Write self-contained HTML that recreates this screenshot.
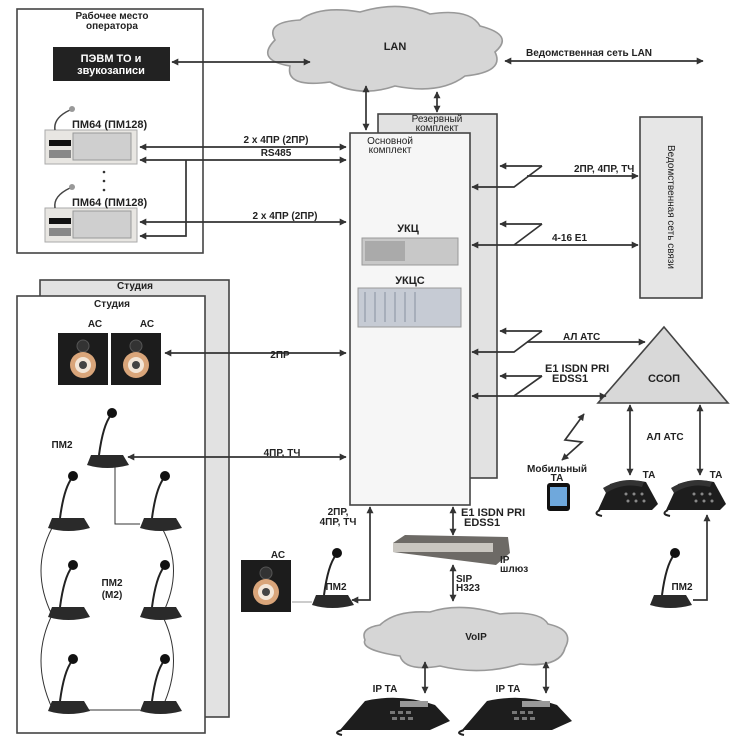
<!DOCTYPE html>
<html><head><meta charset="utf-8"><style>
html,body{margin:0;padding:0;background:#fff}
svg{display:block}
text{font-family:"Liberation Sans","DejaVu Sans",sans-serif;font-weight:bold;fill:#222;font-size:10px}
</style></head><body>
<svg width="748" height="748" viewBox="0 0 748 748" xmlns="http://www.w3.org/2000/svg">
<defs>
<marker id="a" viewBox="0 0 10 10" refX="9" refY="5" markerWidth="9" markerHeight="7" orient="auto-start-reverse" markerUnits="userSpaceOnUse"><path d="M0,0L10,5L0,10z" fill="#333"/></marker>
<g id="mic"><path d="M-8,0 Q-4,-30 4,-40" stroke="#222" stroke-width="2" fill="none"/><circle cx="5" cy="-42" r="5" fill="#111"/><path d="M-20,10 L-16,0 L16,0 L22,10 Q0,16 -20,10z" fill="#2a2a2a"/></g>
<g id="spk"><rect x="0" y="0" width="50" height="52" fill="#1c1c1c"/><circle cx="25" cy="13" r="6" fill="#333" stroke="#555"/><circle cx="25" cy="32" r="13" fill="#d9a57a"/><circle cx="25" cy="32" r="8" fill="#f3e6d8"/><circle cx="25" cy="32" r="4" fill="#444"/></g>
<g id="pm64"><rect x="0" y="0" width="92" height="34" fill="#e8e6e2" stroke="#aaa"/><rect x="28" y="3" width="58" height="27" fill="#cfcfcf" stroke="#999"/><rect x="4" y="10" width="22" height="6" fill="#111"/><rect x="4" y="20" width="22" height="8" fill="#888"/><path d="M10,0 Q8,-12 25,-20" stroke="#444" fill="none" stroke-width="1.5"/><circle cx="27" cy="-21" r="3" fill="#999"/></g>
<g id="ph"><path d="M0,32 L12,6 Q30,0 48,4 L60,26 L54,32z" fill="#1d1d1d"/><path d="M5,10 Q25,-2 46,4 L44,9 Q25,4 8,15z" fill="#333"/><g fill="#888"><circle cx="28" cy="16" r="1.5"/><circle cx="36" cy="16" r="1.5"/><circle cx="44" cy="16" r="1.5"/><circle cx="30" cy="23" r="1.5"/><circle cx="38" cy="23" r="1.5"/><circle cx="46" cy="23" r="1.5"/></g><path d="M2,32 Q-6,36 4,38" stroke="#222" fill="none" stroke-width="2"/></g>
<g id="ipph"><path d="M0,35 L25,6 Q60,-2 95,10 L110,26 L90,35z" fill="#1d1d1d"/><rect x="60" y="6" width="28" height="6" fill="#999"/><g fill="#777"><rect x="50" y="16" width="5" height="3"/><rect x="58" y="16" width="5" height="3"/><rect x="66" y="16" width="5" height="3"/><rect x="52" y="22" width="5" height="3"/><rect x="60" y="22" width="5" height="3"/><rect x="68" y="22" width="5" height="3"/></g><path d="M2,35 Q-8,38 2,40" stroke="#222" fill="none" stroke-width="2"/></g>
</defs>
<g stroke="#444" stroke-width="1.6" fill="none">
<rect x="17" y="9" width="186" height="244" fill="#fff"/>
<path d="M275,40 Q265,22 300,20 Q320,5 360,12 Q400,0 430,14 Q470,8 480,26 Q515,35 495,52 Q505,72 465,76 Q440,95 395,86 Q360,98 330,82 Q285,88 290,66 Q255,60 275,40z" fill="#d6d6d6" stroke="#999"/>
<rect x="378" y="114" width="119" height="364" fill="#e2e2e2"/>
<rect x="350" y="133" width="120" height="372" fill="#f6f6f6"/>
<rect x="40" y="280" width="189" height="437" fill="#e2e2e2"/>
<rect x="17" y="296" width="188" height="437" fill="#fff"/>
<rect x="640" y="117" width="62" height="181" fill="#e6e6e6"/>
<path d="M664,327 L728,403 L598,403z" fill="#d8d8d8"/>
<path d="M380,625 Q395,610 430,612 Q460,602 500,614 Q540,610 548,624 Q575,630 565,648 Q560,668 520,664 Q480,676 440,666 Q405,672 400,656 Q360,650 365,640 Q360,628 380,625z" fill="#d6d6d6" stroke="#999"/>
</g>
<g stroke="#333" stroke-width="1.7" fill="none">
<line x1="172" y1="62" x2="310" y2="62" marker-start="url(#a)" marker-end="url(#a)"/>
<line x1="505" y1="61" x2="703" y2="61" marker-start="url(#a)" marker-end="url(#a)"/>
<line x1="366" y1="86" x2="366" y2="130" marker-start="url(#a)" marker-end="url(#a)"/>
<line x1="437" y1="92" x2="437" y2="112" marker-start="url(#a)" marker-end="url(#a)"/>
<line x1="140" y1="147" x2="346" y2="147" marker-start="url(#a)" marker-end="url(#a)"/>
<line x1="140" y1="160" x2="346" y2="160" marker-start="url(#a)" marker-end="url(#a)"/>
<polyline points="186,160 186,236 140,236" marker-end="url(#a)"/>
<line x1="140" y1="222" x2="346" y2="222" marker-start="url(#a)" marker-end="url(#a)"/>
<line x1="165" y1="353" x2="346" y2="353" marker-start="url(#a)" marker-end="url(#a)"/>
<line x1="128" y1="457" x2="346" y2="457" marker-start="url(#a)" marker-end="url(#a)"/>
<polyline points="542,166 500,166" marker-end="url(#a)"/><polyline points="542,166 514,187 472,187" marker-end="url(#a)"/><line x1="527" y1="176" x2="638" y2="176" marker-end="url(#a)"/>
<polyline points="542,224 500,224" marker-end="url(#a)"/><polyline points="542,224 514,245" /><line x1="472" y1="245" x2="638" y2="245" marker-start="url(#a)" marker-end="url(#a)"/>
<polyline points="542,331 500,331" marker-end="url(#a)"/><polyline points="542,331 514,352 472,352" marker-end="url(#a)"/><line x1="527" y1="342" x2="645" y2="342" marker-end="url(#a)"/>
<polyline points="542,376 500,376" marker-end="url(#a)"/><polyline points="542,376 514,396 472,396" marker-end="url(#a)"/><line x1="514" y1="396" x2="606" y2="396" marker-end="url(#a)"/>
<line x1="630" y1="405" x2="630" y2="475" marker-start="url(#a)" marker-end="url(#a)"/>
<line x1="700" y1="405" x2="700" y2="475" marker-start="url(#a)" marker-end="url(#a)"/>
<polyline points="562,460 582,442 565,440 584,414" marker-start="url(#a)" marker-end="url(#a)"/>
<polyline points="693,600 707,600 707,515" marker-end="url(#a)"/>
<polyline points="352,600 370,600 370,507" marker-start="url(#a)" marker-end="url(#a)"/>
<line x1="453" y1="507" x2="453" y2="535" marker-start="url(#a)" marker-end="url(#a)"/>
<line x1="453" y1="565" x2="453" y2="601" marker-start="url(#a)" marker-end="url(#a)"/>
<line x1="425" y1="662" x2="425" y2="693" marker-start="url(#a)" marker-end="url(#a)"/>
<line x1="546" y1="662" x2="546" y2="693" marker-start="url(#a)" marker-end="url(#a)"/>
<polyline points="115,466 115,524 140,524" stroke-width="1"/>
<line x1="292" y1="602" x2="312" y2="602" stroke-width="1" stroke="#999"/>
<path d="M52,528 Q30,570 52,615 Q30,660 52,708 M162,528 Q185,570 162,615 Q185,660 162,708 M75,710 L140,710" stroke-width="1"/>
</g>
<rect x="53" y="47" width="117" height="34" fill="#222"/>
<text x="111" y="62" text-anchor="middle" style="fill:#fff;font-size:11px">ПЭВМ ТО и</text>
<text x="111" y="74" text-anchor="middle" style="fill:#fff;font-size:11px">звукозаписи</text>
<use href="#pm64" x="45" y="130"/><use href="#pm64" x="45" y="208"/>
<g fill="#333"><circle cx="104" cy="172" r="1.3"/><circle cx="104" cy="181" r="1.3"/><circle cx="104" cy="190" r="1.3"/></g>
<use href="#spk" x="58" y="333"/><use href="#spk" x="111" y="333"/><use href="#spk" x="241" y="560"/>
<use href="#mic" x="107" y="455"/>
<use href="#mic" x="68" y="518"/><use href="#mic" x="160" y="518"/>
<use href="#mic" x="68" y="607"/><use href="#mic" x="160" y="607"/>
<use href="#mic" x="68" y="701"/><use href="#mic" x="160" y="701"/>
<use href="#mic" x="332" y="595"/><use href="#mic" x="670" y="595"/>
<rect x="362" y="238" width="96" height="27" fill="#c8c8c8" stroke="#999"/><rect x="365" y="241" width="40" height="20" fill="#aaa"/>
<rect x="358" y="288" width="103" height="39" fill="#c6cbd4" stroke="#999"/><g stroke="#8890a0"><line x1="365" y1="292" x2="365" y2="322"/><line x1="375" y1="292" x2="375" y2="322"/><line x1="385" y1="292" x2="385" y2="322"/><line x1="395" y1="292" x2="395" y2="322"/><line x1="405" y1="292" x2="405" y2="322"/><line x1="415" y1="292" x2="415" y2="322"/></g>
<path d="M393,543 L405,535 L508,537 L510,553 L496,565 L393,552z" fill="#6d6a66"/><rect x="393" y="543" width="100" height="9" fill="#c9c6c0"/>
<use href="#ph" x="598" y="478"/><use href="#ph" x="666" y="478"/>
<rect x="547" y="483" width="23" height="28" rx="3" fill="#111"/><rect x="550" y="487" width="17" height="19" fill="#6fa8dc"/>
<use href="#ipph" x="340" y="695"/><use href="#ipph" x="462" y="695"/>
<text x="112" y="19" text-anchor="middle">Рабочее место</text>
<text x="112" y="29" text-anchor="middle">оператора</text>
<text x="395" y="50" text-anchor="middle" style="font-size:11px">LAN</text>
<text x="526" y="56">Ведомственная сеть LAN</text>
<text x="437" y="122" text-anchor="middle" style="font-weight:normal">Резервный</text>
<text x="437" y="131" text-anchor="middle" style="font-weight:normal">комплект</text>
<text x="390" y="144" text-anchor="middle" style="font-weight:normal">Основной</text>
<text x="390" y="153" text-anchor="middle" style="font-weight:normal">комплект</text>
<text x="72" y="128" style="font-size:11px">ПМ64 (ПМ128)</text>
<text x="72" y="206" style="font-size:11px">ПМ64 (ПМ128)</text>
<text x="276" y="143" text-anchor="middle">2 x 4ПР (2ПР)</text>
<text x="276" y="156" text-anchor="middle">RS485</text>
<text x="285" y="219" text-anchor="middle">2 x 4ПР (2ПР)</text>
<text x="408" y="232" text-anchor="middle" style="font-size:11px">УКЦ</text>
<text x="410" y="284" text-anchor="middle" style="font-size:11px">УКЦС</text>
<text x="574" y="172">2ПР, 4ПР, ТЧ</text>
<text x="552" y="241">4-16 E1</text>
<text x="563" y="340">АЛ АТС</text>
<text x="545" y="372" style="font-size:11px">E1 ISDN PRI</text>
<text x="552" y="382" style="font-size:11px">EDSS1</text>
<text x="664" y="382" text-anchor="middle" style="font-size:11px">ССОП</text>
<text transform="translate(668,207) rotate(90)" text-anchor="middle" style="font-weight:normal">Ведомственная сеть связи</text>
<text x="135" y="289" text-anchor="middle">Студия</text>
<text x="112" y="307" text-anchor="middle">Студия</text>
<text x="95" y="327" text-anchor="middle">АС</text><text x="147" y="327" text-anchor="middle">АС</text>
<text x="280" y="358" text-anchor="middle">2ПР</text>
<text x="282" y="456" text-anchor="middle">4ПР, ТЧ</text>
<text x="62" y="448" text-anchor="middle">ПМ2</text>
<text x="112" y="586" text-anchor="middle">ПМ2</text><text x="112" y="598" text-anchor="middle">(М2)</text>
<text x="278" y="558" text-anchor="middle">АС</text>
<text x="336" y="590" text-anchor="middle">ПМ2</text>
<text x="338" y="515" text-anchor="middle">2ПР,</text><text x="338" y="525" text-anchor="middle">4ПР, ТЧ</text>
<text x="461" y="516" style="font-size:11px">E1 ISDN PRI</text><text x="464" y="526" style="font-size:11px">EDSS1</text>
<text x="500" y="563">IP</text><text x="500" y="572">шлюз</text>
<text x="456" y="582">SIP</text><text x="456" y="591">H323</text>
<text x="476" y="640" text-anchor="middle">VoIP</text>
<text x="385" y="692" text-anchor="middle">IP ТА</text><text x="508" y="692" text-anchor="middle">IP ТА</text>
<text x="665" y="440" text-anchor="middle">АЛ АТС</text>
<text x="649" y="478" text-anchor="middle">ТА</text><text x="716" y="478" text-anchor="middle">ТА</text>
<text x="557" y="472" text-anchor="middle">Мобильный</text><text x="557" y="481" text-anchor="middle">ТА</text>
<text x="682" y="590" text-anchor="middle">ПМ2</text>
</svg>
</body></html>
